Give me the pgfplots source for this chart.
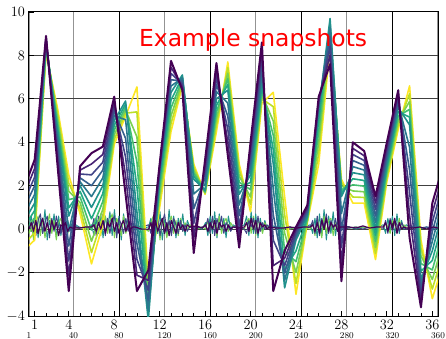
\documentclass[border=0pt]{standalone}
\usepackage{pgfplots}
\pgfplotsset{compat=1.18}
\usepackage{pgfplotstable}
\usepackage{fontspec}
\newfontfamily\djsans{DejaVu Sans}
\definecolor{v0}{HTML}{440154}
\definecolor{v1}{HTML}{482475}
\definecolor{v2}{HTML}{414487}
\definecolor{v3}{HTML}{355F8D}
\definecolor{v4}{HTML}{2A788E}
\definecolor{v5}{HTML}{21918C}
\definecolor{v6}{HTML}{22A884}
\definecolor{v7}{HTML}{44BF70}
\definecolor{v8}{HTML}{7AD151}
\definecolor{v9}{HTML}{BDDF26}
\definecolor{v10}{HTML}{FDE725}

\pgfplotstableread{
x c0 c1 c2 c3 c4 c5 c6 c7 c8 c9 c10
0 1.8 1.5 1.2 0.9 0.6 0.3 0.04 -0.22 -0.48 -0.74 -1.0
1 3.2 2.8 2.4 2.0 1.6 1.2 0.86 0.52 0.18 -0.16 -0.5
2 8.9 8.84 8.78 8.72 8.66 8.6 8.5 8.4 8.3 8.2 8.1
3 3.0 3.3 3.6 3.9 4.2 4.5 4.72 4.94 5.16 5.38 5.6
4 -2.85 -2.16 -1.47 -0.78 -0.09 0.6 0.98 1.36 1.74 2.12 2.5
5 2.9 2.72 2.54 2.36 2.18 2.0 1.74 1.48 1.22 0.96 0.7
6 3.5 3.0 2.5 2.0 1.5 1.0 0.48 -0.04 -0.56 -1.08 -1.6
7 3.8 3.44 3.08 2.72 2.36 2.0 1.64 1.28 0.92 0.56 0.2
8 6.1 5.88 5.66 5.44 5.22 5.0 4.78 4.56 4.34 4.12 3.9
9 1.6 2.46 3.32 4.18 5.04 5.9 5.76 5.62 5.48 5.34 5.2
10 -2.85 -2.12 -1.39 -0.66 0.07 0.8 1.95 3.1 4.25 5.4 6.55
11 -1.9 -2.36 -2.82 -3.28 -3.74 -4.2 -3.86 -3.52 -3.18 -2.84 -2.5
12 3.0 2.9 2.8 2.7 2.6 2.5 2.2 1.9 1.6 1.3 1.0
13 7.75 7.46 7.17 6.88 6.59 6.3 5.94 5.58 5.22 4.86 4.5
14 6.4 6.54 6.68 6.82 6.96 7.1 7.0 6.9 6.8 6.7 6.6
15 -1.1 -0.42 0.26 0.94 1.62 2.3 2.44 2.58 2.72 2.86 3.0
16 3.2 2.92 2.64 2.36 2.08 1.8 1.76 1.72 1.68 1.64 1.6
17 7.65 7.32 6.99 6.66 6.33 6.0 5.7 5.4 5.1 4.8 4.5
18 3.4 4.0 4.6 5.2 5.8 6.4 6.66 6.92 7.18 7.44 7.7
19 -0.85 -0.36 0.13 0.62 1.11 1.6 1.88 2.16 2.44 2.72 3.0
20 4.0 3.7 3.4 3.1 2.8 2.5 2.16 1.82 1.48 1.14 0.8
21 8.6 8.24 7.88 7.52 7.16 6.8 6.6 6.4 6.2 6.0 5.8
22 -2.85 -1.68 -0.51 0.66 1.83 3.0 3.66 4.32 4.98 5.64 6.3
23 -1.0 -1.34 -1.68 -2.02 -2.36 -2.7 -1.86 -1.02 -0.18 0.66 1.5
24 0.1 -0.02 -0.14 -0.26 -0.38 -0.5 -1.0 -1.5 -2.0 -2.5 -3.0
25 1.1 1.0 0.9 0.8 0.7 0.6 0.54 0.48 0.42 0.36 0.3
26 6.1 5.98 5.86 5.74 5.62 5.5 5.0 4.5 4.0 3.5 3.0
27 7.6 8.02 8.44 8.86 9.28 9.7 9.44 9.18 8.92 8.66 8.4
28 -2.4 -1.62 -0.84 -0.06 0.72 1.5 1.66 1.82 1.98 2.14 2.3
29 4.0 3.72 3.44 3.16 2.88 2.6 2.32 2.04 1.76 1.48 1.2
30 3.6 3.38 3.16 2.94 2.72 2.5 2.24 1.98 1.72 1.46 1.2
31 1.5 1.2 0.9 0.6 0.3 0.0 -0.28 -0.56 -0.84 -1.12 -1.4
32 4.0 3.8 3.6 3.4 3.2 3.0 2.84 2.68 2.52 2.36 2.2
33 6.4 6.24 6.08 5.92 5.76 5.6 5.4 5.2 5.0 4.8 4.6
34 -0.4 0.64 1.68 2.72 3.76 4.8 5.16 5.52 5.88 6.24 6.6
35 -3.6 -3.34 -3.08 -2.82 -2.56 -2.3 -1.94 -1.58 -1.22 -0.86 -0.5
36 1.2 0.76 0.32 -0.12 -0.56 -1.0 -1.44 -1.88 -2.32 -2.76 -3.2
37 3.0 2.6 2.2 1.8 1.4 1.0 0.5 0.0 -0.5 -1.0 -1.5
}\bigdata

\pgfplotstableread{
x2 n1 n2 n3 n4
1 0.1 -0.2 0.0 0.2
3 0.6 0.4 0.3 -0.1
5 -0.3 -0.5 -0.1 0.5
7 0.8 0.3 0.4 -0.3
9 -0.4 0.6 -0.2 0.4
11 0.5 -0.3 0.2 0.7
13 -0.2 0.5 0.5 -0.2
15 0.9 -0.4 -0.1 0.3
17 -0.5 0.2 0.3 0.6
19 0.4 0.7 -0.2 -0.4
21 -0.1 -0.2 0.4 0.5
23 0.7 0.4 0.0 -0.1
25 -0.4 -0.5 0.3 0.6
27 0.6 0.3 -0.3 0.1
29 -0.3 0.5 0.2 -0.2
31 0.5 -0.1 0.1 0.4
33 -0.2 0.3 0.3 0.0
35 0.4 -0.2 -0.1 0.3
37 0.0 0.2 0.1 -0.1
39 0.3 0.1 0.05 0.2
45 0.1 0.05 0.05 0.05
51 0.0 0.1 0.1 0.1
56 0.2 0.0 0.1 0.0
58 -0.3 0.4 0.2 0.5
60 0.5 -0.2 -0.1 -0.3
62 -0.2 0.5 0.3 0.6
64 0.7 -0.3 0.0 0.1
66 -0.4 0.3 0.4 0.7
68 0.6 0.6 -0.2 -0.3
70 0.0 -0.2 0.3 0.5
72 0.8 0.4 0.1 -0.2
74 -0.3 0.7 0.5 0.4
76 0.9 -0.4 -0.1 0.6
78 -0.2 0.5 0.3 -0.4
80 0.6 0.2 -0.2 0.5
82 -0.5 -0.3 0.2 0.2
84 0.7 0.6 0.4 -0.2
86 -0.1 -0.2 -0.1 0.5
88 0.5 0.3 0.2 -0.1
90 -0.3 0.1 0.0 0.3
92 0.3 -0.1 0.1 0.0
94 0.0 0.2 0.1 0.1
100 0.05 0.1 0.0 0.1
106 0.1 -0.1 0.0 0.2
108 0.5 0.3 0.3 -0.2
110 -0.4 0.6 -0.3 0.4
112 0.7 -0.3 0.4 0.1
114 -0.2 0.4 -0.1 0.6
116 0.8 -0.5 0.2 -0.3
118 -0.5 0.5 0.5 0.3
120 0.4 0.2 -0.2 0.7
122 -0.3 -0.4 0.3 -0.1
124 0.9 0.3 -0.3 0.4
126 -0.2 0.6 0.4 -0.3
128 0.6 -0.2 0.1 0.5
130 -0.4 0.4 -0.2 0.2
132 0.5 -0.3 0.3 -0.2
134 0.0 0.5 0.0 0.4
136 0.7 -0.1 0.2 -0.1
138 -0.3 0.3 -0.1 0.2
140 0.4 0.0 0.2 -0.1
142 0.1 0.2 0.1 0.1
148 0.1 0.0 0.15 0.05
153 0.0 0.1 0.05 0.1
156 0.3 0.0 0.2 0.1
158 -0.3 0.4 -0.1 0.5
160 0.6 -0.2 0.3 -0.2
162 -0.2 0.5 0.0 0.6
164 0.8 0.1 0.4 -0.3
166 -0.4 -0.3 -0.2 0.5
168 0.7 0.6 0.3 0.0
170 -0.1 -0.2 0.1 0.6
172 0.5 0.3 0.2 -0.2
174 -0.4 0.5 -0.1 0.3
176 0.6 -0.1 0.2 0.1
178 0.0 0.3 0.0 -0.1
180 0.2 0.1 0.1 0.1
185 0.05 0.1 0.05 0.1
190 0.2 0.0 0.1 0.0
192 0.6 0.3 0.3 -0.2
194 -0.3 0.5 -0.1 0.4
196 0.8 -0.2 0.5 0.1
198 -0.2 0.6 0.0 0.5
200 0.7 -0.3 0.4 -0.2
202 -0.4 0.4 -0.2 0.6
204 0.5 0.2 0.3 -0.1
206 -0.1 -0.2 0.1 0.3
208 0.4 0.3 0.2 0.0
210 0.0 0.1 0.0 0.2
212 0.2 0.1 0.1 0.05
218 0.1 0.05 0.05 0.1
224 0.05 0.1 0.05 0.0
230 0.1 0.0 0.1 0.05
236 0.0 0.1 0.05 0.1
242 0.1 0.05 0.1 0.05
248 0.2 0.0 0.1 0.1
250 -0.2 0.3 0.2 0.4
252 0.5 -0.3 -0.1 -0.2
254 -0.4 0.5 0.3 0.6
256 0.7 0.1 -0.2 -0.3
258 -0.3 -0.4 0.4 0.5
260 0.9 0.6 0.0 0.1
262 -0.5 -0.2 0.5 0.7
264 0.6 0.4 -0.1 -0.2
266 -0.2 0.5 0.3 0.4
268 0.8 -0.3 0.1 0.0
270 -0.3 0.3 0.2 0.5
272 0.4 0.1 -0.1 -0.1
274 0.0 -0.1 0.1 0.2
276 0.2 0.1 0.1 0.0
282 0.1 0.05 0.1 0.05
288 0.0 0.1 0.05 0.1
294 0.1 0.05 0.15 0.0
300 0.05 0.1 0.05 0.1
306 0.1 0.0 0.1 0.05
312 0.2 0.0 0.1 0.0
314 -0.2 0.3 0.3 0.4
316 0.5 0.1 -0.1 -0.2
318 -0.1 -0.2 0.4 0.5
320 0.6 0.4 0.0 -0.1
322 -0.3 0.2 0.5 0.4
324 0.7 -0.1 -0.2 0.2
326 -0.2 0.5 0.3 -0.1
328 0.4 0.0 0.0 0.3
330 0.0 0.2 0.1 0.1
332 0.2 0.1 0.05 0.0
338 0.1 0.05 0.05 0.1
344 0.0 0.1 0.1 0.05
350 0.1 0.0 0.0 0.1
356 0.05 0.1 0.1 0.0
360 0.1 0.05 0.05 0.05
}\noisedata

\begin{document}
\begin{tikzpicture}
\useasboundingbox (-29bp,-23bp) rectangle (417bp,316bp);
% secondary axis: grid and 1..360 labels
\begin{axis}[
  scale only axis, width=409bp, height=304bp,
  xmin=1, xmax=360, ymin=-4, ymax=10,
  axis line style={draw=none},
  xtick={1,40,120,200,280,360},
  extra x ticks={80,160,240,320},
  extra x tick style={grid=major, major grid style={black, line width=0.7bp}},
  xmajorgrids=true,
  major grid style={gray!85, line width=1.2bp},
  ytick=\empty,
  extra y ticks={-2,0,2,4,6,8},
  extra y tick labels={},
  extra y tick style={grid=major, major grid style={black!75, line width=0.9bp}},
  major tick length=0pt,
  xticklabel style={font=\fontsize{9}{9}\selectfont, inner sep=0pt, yshift=-16.5bp},
]
\end{axis}
% primary axis with data
\begin{axis}[
  scale only axis, width=409bp, height=304bp,
  xmin=0.5, xmax=36.5, ymin=-4, ymax=10,
  xtick={1,4,8,12,16,20,24,28,32,36},
  minor xtick={1,...,36},
  ytick={-4,-2,0,2,4,6,8,10},
  xtick pos=left, ytick pos=left,
  tick align=inside,
  major tick length=4.5bp, minor tick length=2.5bp,
  tick style={black, line width=0.8bp},
  axis line style={black, line width=1bp},
  xticklabel style={font=\fontsize{13.5}{13.5}\selectfont, inner sep=0pt, yshift=-4.5bp},
  yticklabel style={font=\fontsize{15}{15}\selectfont, inner sep=0pt, xshift=-4bp},
  every axis plot/.append style={line join=round},
]
\addplot[v5, line width=1bp] table[x expr={0.5+(\thisrow{x2}-1)*36/359}, y=n1] {\noisedata};
\addplot[v8, line width=1bp] table[x expr={0.5+(\thisrow{x2}-1)*36/359}, y=n2] {\noisedata};
\addplot[v2, line width=1bp] table[x expr={0.5+(\thisrow{x2}-1)*36/359}, y=n4] {\noisedata};
\addplot[v10, line width=1.6bp] table[x=x, y=c10] {\bigdata};
\addplot[v9, line width=1.6bp] table[x=x, y=c9] {\bigdata};
\addplot[v8, line width=1.6bp] table[x=x, y=c8] {\bigdata};
\addplot[v7, line width=1.6bp] table[x=x, y=c7] {\bigdata};
\addplot[v6, line width=1.6bp] table[x=x, y=c6] {\bigdata};
\addplot[v5, line width=1.6bp] table[x=x, y=c5] {\bigdata};
\addplot[v4, line width=1.6bp] table[x=x, y=c4] {\bigdata};
\addplot[v3, line width=1.6bp] table[x=x, y=c3] {\bigdata};
\addplot[v2, line width=1.6bp] table[x=x, y=c2] {\bigdata};
\addplot[v1, line width=1.6bp] table[x=x, y=c1] {\bigdata};
\addplot[v0, line width=1.2bp] table[x expr={0.5+(\thisrow{x2}-1)*36/359}, y=n3] {\noisedata};
\addplot[v0, line width=2bp] table[x=x, y=c0] {\bigdata};
\node[text=red, font=\djsans\fontsize{23.5}{28}\selectfont, anchor=base] at (rel axis cs:0.548,0.888) {Example snapshots};
\end{axis}
\end{tikzpicture}
\end{document}
